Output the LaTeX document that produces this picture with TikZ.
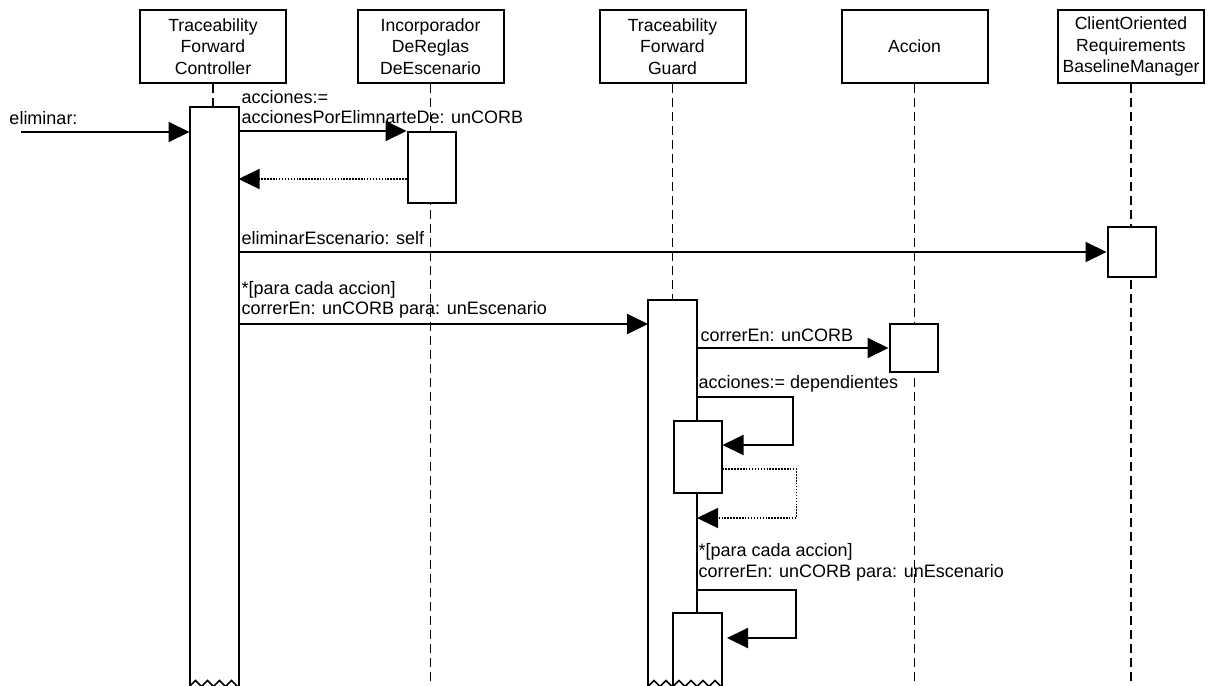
\documentclass[tikz,border=0pt]{standalone}
\usepackage{fontspec}
\setmainfont{Liberation Sans}
\usetikzlibrary{arrows.meta}

\tikzset{every picture/.style={line width=0.75pt}}
\tikzset{
  hdrbox/.style={draw, line width=1.5pt, fill=white, minimum width=109.5pt, minimum height=54.75pt, inner sep=0pt, align=center, font=\fontsize{13.2}{16.1}\selectfont},
  lifeline/.style={line width=1.3pt, dash pattern=on 7pt off 3.5pt},
  actbar/.style={draw, line width=1.5pt, fill=white, minimum width=36pt, inner sep=0pt},
  cutbar/.style={fill=white, minimum width=36pt, inner sep=0pt},
  msg/.style={line width=1.5pt, -{Triangle[length=15.75pt,width=15pt]}},
  ret/.style={line width=1pt, dash pattern=on 1.1pt off 1.1pt, -{Triangle[length=15.75pt,width=15pt]}},
  lbl/.style={anchor=west, inner sep=0.75pt, align=left, font=\fontsize{13.5}{15.5}\selectfont},
}

\begin{document}
\begin{tikzpicture}[x=0.75pt,y=0.75pt,yscale=-1,xscale=1]
\useasboundingbox (0,0) rectangle (1215,686);

%Shape: Header boxes
\node[hdrbox] (ctrl) at (213,46.5) {Traceability\\Forward\\Controller};
\node[hdrbox] (incorp) at (430.5,46.5) {Incorporador\\DeReglas\\DeEscenario};
\node[hdrbox] (guard) at (672.5,46.5) {Traceability\\Forward\\Guard};
\node[hdrbox] (accion) at (914.5,46.5) {Accion};
\node[hdrbox] (blm) at (1131,46.5) {ClientOriented\\Requirements\\BaselineManager};

%Straight Lines: lifelines
\draw[lifeline] (ctrl.south) -- (ctrl.south |- 0,686);
\draw[lifeline] (incorp.south) -- (incorp.south |- 0,686);
\draw[lifeline] (guard.south) -- (guard.south |- 0,686);
\draw[lifeline] (accion.south) -- (accion.south |- 0,686);
\draw[lifeline] (blm.south) -- (blm.south |- 0,686);

%Shape: Activation bars
\node[cutbar, minimum height=434.25pt] (ctrlbar) at (214,396.5) {};
\draw[line width=1.5pt] (ctrlbar.south west) -- (ctrlbar.north west) -- (ctrlbar.north east) -- (ctrlbar.south east);
\draw[line width=1.2pt] (ctrlbar.south west) -- ++(6,-6) -- ++(6,6) -- ++(6,-6) -- ++(6,6) -- ++(6,-6) -- ++(6,6) -- ++(6,-6) -- ++(6,6);
\node[actbar, minimum height=53.25pt] (incbar) at (431.5,167.5) {};
\node[actbar, minimum height=37.5pt] (blmbar) at (1131.5,252) {};
\node[cutbar, minimum height=289.5pt] (guardbar) at (672.5,493) {};
\draw[line width=1.5pt] (guardbar.south west) -- (guardbar.north west) -- (guardbar.north east) -- (guardbar.south east);
\draw[line width=1.2pt] (guardbar.south west) -- ++(6,-6) -- ++(6,6) -- ++(6,-6) -- ++(6,6) -- ++(6,-6) -- ++(6,6) -- ++(6,-6) -- ++(6,6);
\node[actbar, minimum height=36pt] (accbar) at (913.5,348) {};
\node[actbar, minimum height=54pt] (selfbara) at (697.5,457) {};
\node[cutbar, minimum height=54.75pt] (selfbarb) at (697.5,649.5) {};
\draw[line width=1.5pt] (selfbarb.south west) -- (selfbarb.north west) -- (selfbarb.north east) -- (selfbarb.south east);
\draw[line width=1.2pt] (selfbarb.south west) -- ++(6,-6) -- ++(6,6) -- ++(6,-6) -- ++(6,6) -- ++(6,-6) -- ++(6,6) -- ++(6,-6) -- ++(6,6);

%Straight Lines: messages
\coordinate (elimstart) at (21,132);
\draw[msg] (elimstart) -- (elimstart -| ctrlbar.west);
\draw[msg] (ctrlbar.east |- incbar.north) -- (incbar.north west);
\draw[ret] (incbar.west |- 0,179) -- (ctrlbar.east |- 0,179);
\draw[msg] (ctrlbar.east |- blmbar.west) -- (blmbar.west);
\draw[msg] (ctrlbar.east |- 0,324) -- (guardbar.west |- 0,324);
\draw[msg] (guardbar.east |- accbar.west) -- (accbar.west);
\draw[msg] (guardbar.east |- 0,397) -- ++(96,0) |- (selfbara.east |- 0,445);
\draw[ret] (selfbara.east |- 0,469) -- ++(74,0) |- (guardbar.east |- 0,518);
\draw[msg, shorten >=3.75pt] (guardbar.east |- 0,590) -- ++(99,0) |- (selfbarb.east |- 0,638);

% Text Node
\node[lbl] (elimlbl) at (8,118) {eliminar:};
% Text Node
\node[lbl] (acclbl) at (240,107) {acciones:=\\accionesPorElimnarteDe: unCORB};
% Text Node
\node[lbl] (esclbl) at (240,238) {eliminarEscenario: self};
% Text Node
\node[lbl] (paralbl) at (240,300) {*[para cada accion]\\correrEn: unCORB para: unEscenario};
% Text Node
\node[lbl] (corrlbl) at (699,335) {correrEn: unCORB};
% Text Node
\node[lbl] (deplbl) at (697,384) {acciones:= dependientes};
% Text Node
\node[lbl] (para2lbl) at (697,562.5) {*[para cada accion]\\correrEn: unCORB para: unEscenario};

\end{tikzpicture}
\end{document}
